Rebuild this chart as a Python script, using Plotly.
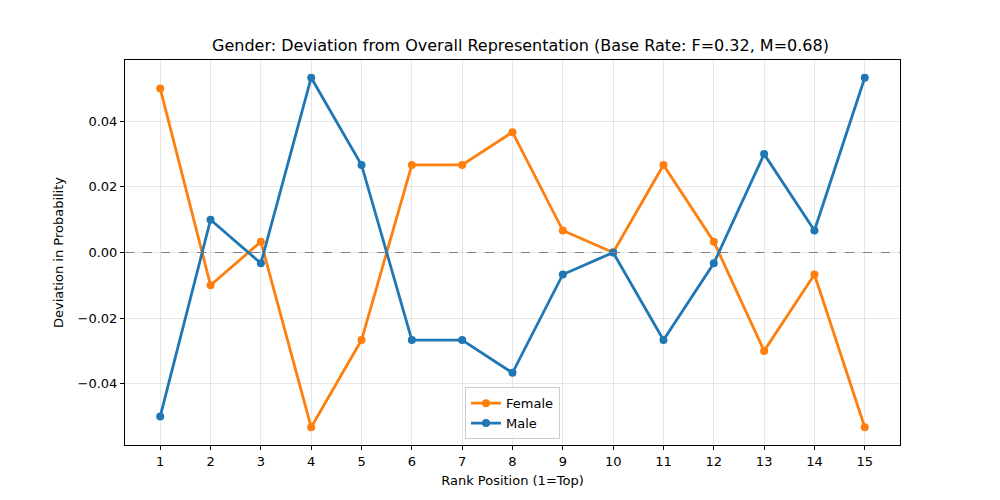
import plotly.graph_objects as go

ranks = list(range(1, 16))
female = [0.0500, -0.0100, 0.0033, -0.0533, -0.0267, 0.0267, 0.0267, 0.0367,
          0.0067, 0.0000, 0.0267, 0.0033, -0.0300, -0.0067, -0.0533]
male = [-0.0500, 0.0100, -0.0033, 0.0533, 0.0267, -0.0267, -0.0267, -0.0367,
        -0.0067, 0.0000, -0.0267, -0.0033, 0.0300, 0.0067, 0.0533]
y_ticks = [-0.04, -0.02, 0.0, 0.02, 0.04]

fig = go.Figure()
fig.add_trace(go.Scatter(x=ranks, y=female, mode="lines+markers", name="Female",
                         line=dict(color="#ff7f0e", width=2.8),
                         marker=dict(size=8, color="#ff7f0e")))
fig.add_trace(go.Scatter(x=ranks, y=male, mode="lines+markers", name="Male",
                         line=dict(color="#1f77b4", width=2.8),
                         marker=dict(size=8, color="#1f77b4")))
fig.add_hline(y=0, line=dict(color="gray", width=1, dash="dash"))

axis_common = dict(showline=True, linecolor="black", linewidth=1, mirror=True,
                   ticks="outside", ticklen=4, tickcolor="black",
                   showgrid=True, gridcolor="rgba(176,176,176,0.3)", gridwidth=1,
                   zeroline=False, tickfont=dict(size=13, color="black"))

fig.update_layout(
    width=1000, height=500,
    paper_bgcolor="white", plot_bgcolor="white",
    font=dict(family="DejaVu Sans", color="black"),
    title=dict(text="Gender: Deviation from Overall Representation (Base Rate: F=0.32, M=0.68)",
               x=0.5125, xanchor="center", y=0.925, yanchor="middle",
               font=dict(size=16, color="black")),
    margin=dict(l=117, r=108, t=52, b=63),
    xaxis=dict(range=[0.3, 15.7], tickmode="array", tickvals=ranks,
               title=dict(text="Rank Position (1=Top)", font=dict(size=13), standoff=8),
               **axis_common),
    yaxis=dict(range=[-0.0587, 0.0587], tickmode="array", tickvals=y_ticks,
               ticktext=[f"{v:.2f}".replace("-", "\u2212") for v in y_ticks],
               title=dict(text="Deviation in Probability", font=dict(size=13), standoff=11),
               **axis_common),
    legend=dict(x=0.5, xanchor="center", y=0.015, yanchor="bottom",
                bordercolor="#cccccc", borderwidth=1, bgcolor="rgba(255,255,255,0.8)",
                font=dict(size=13)),
    showlegend=True,
)

fig.write_html("out.html")
